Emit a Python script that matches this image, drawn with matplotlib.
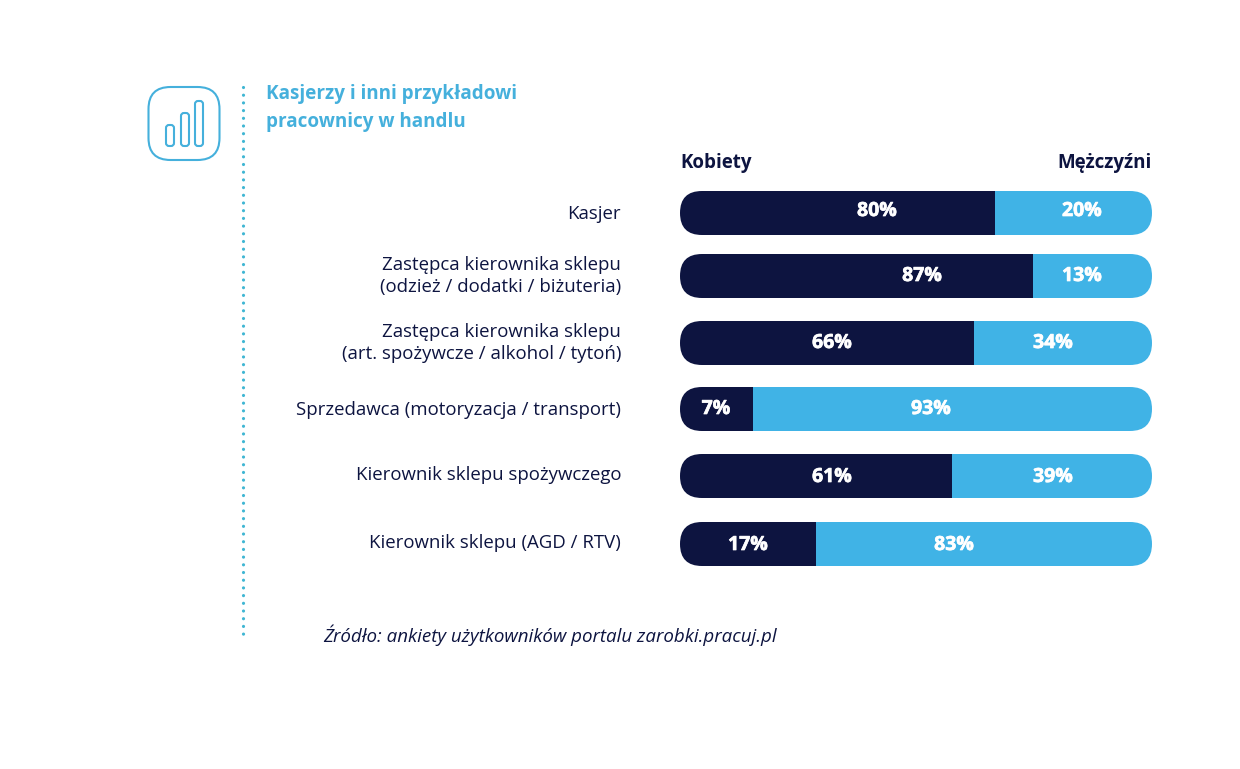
#!/usr/bin/env python3
"""Kasjerzy i inni pracownicy w handlu - stacked rounded bars."""

import matplotlib
matplotlib.use("Agg")
import matplotlib.pyplot as plt
from matplotlib.patches import FancyBboxPatch
import matplotlib.patheffects as pe

plt.rcParams['font.family'] = ['Open Sans', 'DejaVu Sans']

categories = [
    "Kasjer",
    "Zastępca kierownika sklepu\n(odzież / dodatki / biżuteria)",
    "Zastępca kierownika sklepu\n(art. spożywcze / alkohol / tytoń)",
    "Sprzedawca (motoryzacja / transport)",
    "Kierownik sklepu spożywczego",
    "Kierownik sklepu (AGD / RTV)",
]
# printed percentages
women_labels = [80, 87, 66, 7, 61, 17]
men_labels = [20, 13, 34, 93, 39, 83]
# bar lengths as drawn in the picture (not the same as the printed numbers)
women_drawn = [66.7, 74.8, 62.3, 15.5, 57.7, 28.9]
men_drawn = [33.3, 25.2, 37.7, 84.5, 42.3, 71.1]

NAVY = "#0d1440"
BLUE = "#40b3e6"
ICON = "#45b0dc"
TEAL = "#3fb6d3"
W, H = 1240, 769
bar_y = [213, 276, 343, 409, 476, 544]
label_y = [214, 276, 343, 410, 475, 543]
value_y = [211, 276, 343, 409, 477, 545]
# label centres in pixels, they do not follow the segments in the original
women_x = [877, 922, 832, 716, 832, 748]
men_x = [1082, 1082, 1053, 931, 1053, 954]
BAR_H = 44

fig = plt.figure(figsize=(W / 100, H / 100), dpi=100, facecolor="white")

# background axes in pixel coordinates
bg = fig.add_axes([0, 0, 1, 1])
bg.set_xlim(0, W)
bg.set_ylim(H, 0)
bg.axis("off")

# icon
bg.add_patch(FancyBboxPatch((148.5, 87), 71, 73, boxstyle="round,pad=0,rounding_size=22",
                            fc="none", ec=ICON, lw=1.5))
for x0, top in zip([166, 181, 195], [125, 113, 101]):
    bg.add_patch(FancyBboxPatch((x0, top), 8, 146 - top, boxstyle="round,pad=0,rounding_size=3",
                                fc="none", ec=ICON, lw=1.5))

# dotted separator
bg.plot([242.5, 242.5], [87, 641], color=TEAL, lw=2.3, linestyle=(0, (0.01, 2.4)),
        dash_capstyle="round")

bg.text(266, 94, "Kasjerzy i inni przykładowi", color=ICON, fontsize=13.6,
        fontweight="bold", va="center", ha="left")
bg.text(266, 122, "pracownicy w handlu", color=ICON, fontsize=13.6,
        fontweight="bold", va="center", ha="left")
bg.text(680, 163, "Kobiety", color=NAVY, fontsize=13.5, fontweight="bold", va="center", ha="left")
bg.text(1152, 163, "Mężczyźni", color=NAVY, fontsize=13.5, fontweight="bold", va="center", ha="right")

for label, y in zip(categories, label_y):
    bg.text(621, y, label, color=NAVY, fontsize=13.45, va="center", ha="right",
            linespacing=1.27, multialignment="right")

bg.text(323, 635, "Źródło: ankiety użytkowników portalu zarobki.pracuj.pl", color=NAVY,
        fontsize=13.5, style="italic", va="center", ha="left")

# bars
ax = fig.add_axes([680 / W, 0, 472 / W, 1])
ax.patch.set_alpha(0)
ax.set_xlim(0, 100)
ax.set_ylim(H, 0)
ax.axis("off")
px_per_unit = 4.72

for y, wd, md in zip(bar_y, women_drawn, men_drawn):
    clip = FancyBboxPatch((0, y - BAR_H / 2), 100, BAR_H,
                          boxstyle=f"round,pad=0,rounding_size={22 / px_per_unit}",
                          mutation_aspect=px_per_unit, fc="none", ec="none",
                          transform=ax.transData)
    ax.add_patch(clip)
    b1 = ax.barh(y, wd, height=BAR_H, color=NAVY, lw=0)[0]
    b2 = ax.barh(y, md, left=wd, height=BAR_H, color=BLUE, lw=0)[0]
    b1.set_clip_path(clip)
    b2.set_clip_path(clip)

# values are a bit heavier than plain bold in the original
heavy = [pe.withStroke(linewidth=0.5, foreground="white")]
for y, wx, mx, wl, ml in zip(value_y, women_x, men_x, women_labels, men_labels):
    bg.text(wx, y, f"{wl}%", color="white", fontsize=14, fontweight="bold",
            ha="center", va="center", zorder=5, path_effects=heavy)
    bg.text(mx, y, f"{ml}%", color="white", fontsize=14, fontweight="bold",
            ha="center", va="center", zorder=5, path_effects=heavy)

# text drawn on top of the bars
bg.set_zorder(ax.get_zorder() + 1)
bg.patch.set_alpha(0)

fig.savefig("out.png", dpi=100, facecolor="white")
